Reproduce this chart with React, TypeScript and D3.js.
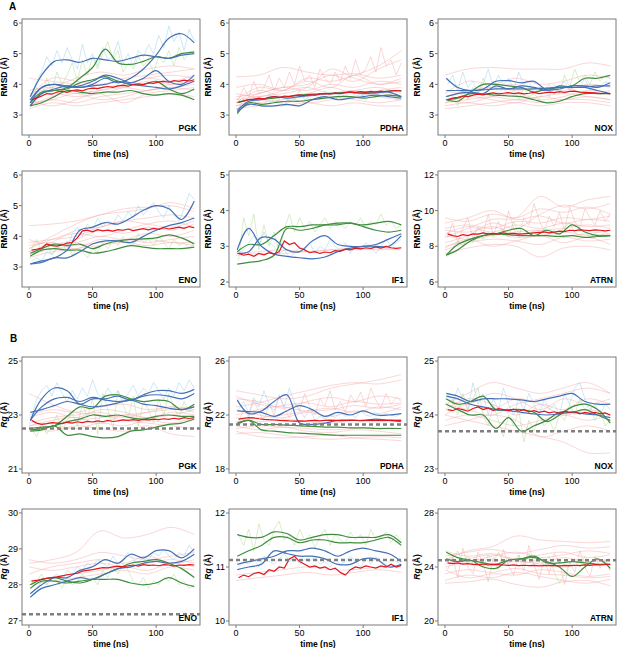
import * as d3 from 'd3';

// time grids (ns)
const T_SMOOTH = [1, 10, 20, 30, 40, 50, 60, 70, 80, 90, 100, 110, 120, 130];
const T_FAINT = [0, 18, 37, 56, 75, 93, 112, 130];
const T_NOISY = [2, 6, 10, 14, 18, 22, 26, 30, 34, 38, 42, 46, 50, 54, 58, 62, 66, 70, 74, 78, 82, 86, 90, 94, 98, 102, 106, 110, 114, 118, 122, 126, 130];
const X_TICKS = [0, 50, 100];

// ---------- A: RMSD ----------
const pgkRmsdRed = [3.5,3.55,3.62,3.7,3.68,3.75,3.78,3.74,3.8,3.82,3.79,3.85,3.88,3.86,3.9,3.93,3.9,3.95,3.97,3.94,4.0,4.02,3.99,4.05,4.03,4.08,4.1,4.07,4.12,4.1,4.14,4.11,4.15];
const pgkRmsdBlue = [
  [3.6,4.3,4.75,4.8,4.72,4.85,4.8,4.75,4.85,4.95,4.9,4.85,4.95,5.0],
  [3.5,3.9,4.0,3.95,3.9,4.0,4.2,4.05,4.2,4.5,4.95,5.5,5.65,5.35],
  [3.4,3.9,4.0,3.9,3.95,4.1,4.3,4.2,4.05,4.2,4.45,4.1,4.0,4.3],
  [3.3,3.7,3.85,3.95,3.9,3.95,4.0,4.1,4.0,3.95,3.9,3.85,3.95,4.1],
];
const pgkRmsdGreen = [
  [3.4,3.75,3.8,3.9,4.2,4.55,5.15,4.7,4.65,4.75,4.9,4.85,5.0,5.05],
  [3.3,3.7,3.8,3.85,4.05,4.15,4.25,4.1,4.0,4.0,4.1,3.85,3.7,3.85],
  [3.3,3.4,3.6,3.8,3.75,3.7,3.75,3.75,3.8,3.7,3.65,3.7,3.65,3.5],
];
const pgkRmsdFaint = [
  [3.3,3.5,3.4,3.6,3.7,3.8,3.9,4.0],[3.6,4.2,4.1,4.0,4.2,4.3,4.4,4.5],[3.2,3.4,3.3,3.4,3.5,3.6,3.7,3.6],
  [4.2,4.1,4.0,3.9,4.0,4.2,4.3,4.2],[3.5,3.7,3.6,3.7,3.9,4.1,4.0,4.1],[3.4,3.5,3.7,3.5,3.6,3.8,3.9,3.8],
  [3.7,3.9,4.2,4.4,4.3,4.5,4.6,4.5],[3.3,3.6,3.8,3.7,3.4,3.7,3.8,3.9],[3.5,3.3,3.5,3.8,4.0,4.2,4.1,4.3],
  [3.8,3.9,3.7,3.8,3.9,3.8,4.0,4.1],
];
const pgkRmsdLightBlue = [3.6,4.1,4.4,4.9,4.6,5.1,4.7,5.2,4.8,4.5,5.3,4.7,5.0,4.6,5.2,4.8,4.9,5.4,4.7,5.0,4.6,5.1,4.9,5.3,5.0,5.6,5.2,5.9,5.4,5.7,5.1,5.8,5.4];
const pgkRmsdLightGreen = [3.4,3.9,3.6,4.2,3.8,4.4,4.0,4.3,4.7,4.1,4.8,4.3,4.9,4.5,5.0,5.4,4.8,5.1,4.4,4.7,4.5,4.9,4.6,4.8,4.4,4.9,4.7,5.1,4.6,5.2,4.8,5.0,5.1];

const pdhaRmsdRed = [3.42,3.45,3.5,3.52,3.55,3.53,3.58,3.6,3.57,3.62,3.6,3.64,3.66,3.63,3.67,3.65,3.69,3.7,3.68,3.72,3.7,3.73,3.75,3.72,3.76,3.74,3.77,3.75,3.78,3.76,3.79,3.8,3.78];
const pdhaRmsdBlue = [
  [3.1,3.35,3.3,3.3,3.35,3.3,3.5,3.6,3.5,3.55,3.6,3.65,3.6,3.55],
  [3.15,3.45,3.5,3.6,3.55,3.6,3.65,3.7,3.7,3.75,3.7,3.72,3.75,3.6],
];
const pdhaRmsdGreen = [
  [3.05,3.4,3.35,3.4,3.45,3.45,3.5,3.55,3.6,3.6,3.55,3.6,3.65,3.6],
  [3.4,3.5,3.52,3.55,3.6,3.65,3.68,3.7,3.72,3.75,3.75,3.75,3.78,3.8],
];
const pdhaRmsdFaint = [
  [4.25,4.3,4.55,4.4,4.3,4.35,4.2,4.3],[3.5,3.9,3.8,4.2,4.1,4.3,4.6,5.1],[3.4,3.7,3.9,4.0,4.3,4.1,4.5,4.8],
  [3.3,3.4,3.5,3.6,3.7,3.8,3.6,3.5],[3.2,3.3,3.3,3.4,3.3,3.4,3.3,3.3],[3.6,3.7,3.9,3.8,4.0,3.9,4.1,4.0],
  [3.4,3.8,3.6,3.7,3.9,3.7,3.8,3.9],[3.7,3.6,3.8,4.1,3.9,4.3,4.0,4.2],[3.3,3.5,3.4,3.5,3.6,3.5,3.4,3.5],
  [3.9,4.0,3.8,3.9,3.7,3.8,3.9,3.7],[3.2,3.5,3.6,3.4,3.5,3.6,3.7,3.6],[3.5,3.6,3.7,3.9,4.5,4.2,4.0,4.1],
];
const pdhaRmsdLightPink = [3.5,3.9,3.6,4.1,3.7,3.9,4.3,3.8,4.2,3.9,4.4,4.0,4.6,4.1,4.3,3.9,4.5,4.2,4.0,4.4,4.1,4.6,4.2,4.8,4.3,4.5,4.9,4.4,5.2,4.6,4.8,4.3,4.7];
const pdhaRmsdLightBlue = [3.2,3.5,3.3,3.6,3.4,3.3,3.7,3.4,3.5,3.3,3.6,3.5,3.8,3.5,3.6,3.7,3.5,3.8,3.6,3.5,3.7,3.6,3.8,3.6,3.7,3.5,3.8,3.7,3.6,3.8,3.7,3.5,3.6];

const noxRmsdRed = [3.5,3.55,3.58,3.62,3.6,3.65,3.68,3.66,3.7,3.72,3.69,3.71,3.73,3.7,3.72,3.69,3.71,3.74,3.7,3.72,3.75,3.73,3.76,3.74,3.77,3.78,3.75,3.74,3.73,3.72,3.7,3.71,3.69];
const noxRmsdBlue = [
  [4.2,3.9,3.8,3.85,4.1,4.12,4.05,4.1,3.82,3.85,3.95,3.95,3.9,4.05],
  [3.8,3.8,3.8,3.82,3.85,3.85,3.85,3.85,3.88,3.9,3.9,3.92,3.95,3.95],
  [3.6,3.7,3.75,3.7,3.95,3.85,3.95,3.9,3.8,3.95,3.9,3.9,3.8,3.7],
];
const noxRmsdGreen = [
  [3.5,3.45,3.75,4.0,4.0,3.95,3.9,3.75,3.85,3.9,3.95,4.2,4.2,4.3],
  [3.5,3.55,3.7,3.68,3.65,3.62,3.6,3.5,3.4,3.45,3.6,3.7,3.7,3.7],
];
const noxRmsdFaint = [
  [4.3,4.5,4.55,4.5,4.5,4.5,4.7,4.6],[3.7,4.1,4.0,4.2,4.0,4.1,4.3,4.2],[3.4,3.5,3.6,3.5,3.6,3.7,3.6,3.5],
  [3.3,3.4,3.3,3.4,3.3,3.4,3.4,3.3],[3.6,3.8,3.9,3.8,3.9,3.8,4.0,3.9],[3.5,3.4,3.6,3.7,3.5,3.6,3.8,3.7],
  [3.2,3.3,3.4,3.5,3.4,3.5,3.5,3.4],[3.8,3.7,3.9,4.0,3.8,3.9,3.7,3.8],[3.4,3.6,3.5,3.4,3.6,3.5,3.6,3.5],
];
const noxRmsdLightBlue = [4.0,4.3,3.8,4.4,3.9,4.1,3.7,4.0,4.5,3.9,4.3,4.0,4.2,3.8,4.4,4.0,4.1,3.7,3.9,3.8,4.0,3.7,3.9,4.1,3.8,4.0,3.9,4.2,3.8,4.0,3.9,4.1,4.0];
const noxRmsdLightGreen = [3.4,3.6,3.3,3.8,3.5,3.9,3.7,4.2,3.8,4.1,3.7,3.9,3.6,3.8,3.5,3.9,3.6,3.7,3.5,3.8,3.6,4.0,3.7,4.3,3.9,4.5,4.1,4.3,4.0,4.4,4.1,4.3,4.2];

const enoRmsdRed = [3.55,3.58,3.62,3.75,3.7,3.68,3.72,3.78,3.8,3.95,4.18,4.2,4.15,4.22,4.18,4.2,4.17,4.22,4.2,4.24,4.19,4.22,4.25,4.21,4.26,4.23,4.28,4.24,4.27,4.3,4.26,4.32,4.28];
const enoRmsdBlue = [
  [3.1,3.2,3.3,3.55,4.2,4.3,4.45,4.4,4.6,4.85,5.0,4.9,4.55,5.15],
  [3.1,3.15,3.3,3.3,3.5,3.75,3.85,3.85,3.8,4.0,4.2,4.35,4.45,4.6],
];
const enoRmsdGreen = [
  [3.45,3.6,3.75,3.7,3.75,3.6,3.75,3.85,3.9,3.92,3.95,4.05,3.95,3.75],
  [3.35,3.55,3.6,3.55,3.55,3.45,3.5,3.6,3.7,3.65,3.6,3.6,3.6,3.65],
];
const enoRmsdFaint = [
  [4.35,4.4,4.5,4.7,4.9,4.95,5.0,4.8],[3.6,4.0,4.4,4.7,4.8,4.9,5.1,4.9],[3.5,3.8,4.2,4.3,4.5,4.6,4.7,4.6],
  [3.8,3.9,4.0,4.3,4.5,4.4,4.3,4.5],[3.4,3.6,3.7,3.8,3.9,3.8,3.9,4.0],[3.9,3.7,3.8,4.0,3.9,4.1,4.0,4.2],
  [3.3,3.5,3.6,3.7,3.8,3.7,3.8,3.7],[3.6,3.9,4.1,4.0,4.2,4.4,4.5,4.3],[3.7,3.8,3.6,3.9,3.8,3.9,3.8,3.8],
  [3.5,3.7,3.9,4.2,4.1,4.3,4.2,4.4],
];
const enoRmsdLightBlue = [3.2,3.3,3.2,3.5,3.4,3.6,3.8,3.5,4.1,4.3,4.0,4.4,4.2,4.6,4.3,4.5,4.4,4.7,4.5,4.8,4.6,5.0,4.7,4.9,5.1,4.8,4.6,5.0,4.7,4.5,4.9,5.4,5.2];
const enoRmsdLightGreen = [3.6,3.9,3.5,3.8,3.4,3.7,3.5,3.8,3.4,3.6,3.5,3.3,3.6,3.5,3.8,3.6,3.9,3.7,4.0,3.8,3.7,4.1,3.8,3.9,3.7,4.0,3.8,3.6,3.9,3.7,3.8,3.6,3.8];

const if1RmsdRed = [2.8,2.75,2.78,2.72,2.8,2.76,2.82,2.78,2.85,3.15,3.05,3.1,2.95,2.9,2.82,2.85,2.8,2.84,2.82,2.88,2.86,2.92,2.9,2.95,2.93,2.96,2.94,2.98,2.95,3.0,2.96,2.94,2.96];
const if1RmsdBlue = [
  [2.9,3.5,3.0,2.78,2.72,2.68,2.65,2.7,2.85,2.95,3.0,3.0,3.0,3.3],
  [2.8,2.85,3.25,3.2,2.9,2.85,3.15,3.3,3.05,3.0,3.0,3.05,3.2,3.35],
];
const if1RmsdGreen = [
  [2.5,2.55,2.6,2.75,3.5,3.45,3.5,3.6,3.65,3.65,3.6,3.65,3.7,3.6],
  [2.85,3.05,3.05,3.3,3.55,3.55,3.6,3.6,3.6,3.65,3.55,3.45,3.4,3.45],
];
const if1RmsdFaint = [[2.8,2.85,2.9,2.85,2.9,2.95,2.9,2.95],[2.75,2.8,2.8,2.85,2.9,2.9,2.95,2.9]];
const if1RmsdLightGreen = [2.6,3.8,3.3,3.9,2.9,3.6,3.0,3.4,2.8,3.5,3.9,3.4,3.8,3.5,3.7,3.4,3.6,3.8,3.5,3.7,3.6,3.5,3.7,3.6,3.8,3.5,3.7,3.6,3.9,3.6,3.7,3.5,3.6];
const if1RmsdLightBlue = [2.8,2.9,3.1,3.3,3.0,3.4,3.1,3.0,2.8,2.9,2.7,2.8,3.0,2.9,3.1,2.8,3.0,2.9,3.2,3.0,2.9,3.1,2.8,3.0,2.9,3.1,3.0,2.8,3.0,3.2,3.0,3.1,3.2];

const atrnRmsdRed = [8.7,8.6,8.55,8.65,8.6,8.7,8.68,8.75,8.7,8.72,8.68,8.75,8.7,8.72,8.68,8.7,8.72,8.75,8.78,8.8,8.75,8.8,8.85,8.82,8.9,8.88,8.92,8.9,8.88,8.92,8.9,8.87,8.9];
const atrnRmsdGreen = [
  [7.5,8.1,8.4,8.6,8.7,8.9,9.0,8.6,8.9,8.7,9.2,8.8,8.6,8.6],
  [7.5,7.8,8.3,8.6,8.7,8.65,8.6,8.6,8.6,8.55,8.6,8.5,8.55,8.6],
];
const atrnRmsdFaint = [
  [8.5,9.0,9.5,9.6,10.8,10.2,10.6,10.8],[8.2,8.6,9.3,9.0,9.8,10.3,10.1,10.4],[9.0,9.2,9.0,9.4,9.3,9.6,9.5,9.7],
  [7.8,8.2,8.4,8.3,8.1,8.5,8.3,8.4],[8.9,8.8,9.1,8.7,8.9,9.0,9.2,9.0],[7.6,7.9,8.1,8.0,7.4,7.9,8.0,7.8],
  [9.3,9.6,10.0,9.5,9.7,9.3,9.5,9.4],[8.0,8.3,8.6,8.8,8.9,8.6,8.7,8.9],[8.7,9.1,8.8,9.2,9.0,9.3,9.1,9.2],
  [7.9,8.4,8.0,8.3,8.6,8.2,8.5,8.1],[8.6,8.4,8.7,8.5,8.6,8.8,8.6,8.7],[9.6,9.4,9.8,9.6,10.1,9.9,10.2,9.8],
];
const atrnRmsdLightPink = [8.5,9.3,8.2,9.0,9.6,8.4,9.1,8.7,9.8,8.6,9.4,8.8,10.0,9.0,8.5,9.6,9.2,10.4,9.5,8.8,9.7,9.1,9.9,8.9,10.2,9.4,9.0,10.1,9.6,9.2,10.0,9.4,9.8];
const atrnRmsdLightGreen = [7.4,7.9,8.3,8.0,8.5,8.2,8.7,8.4,8.8,8.5,8.7,8.9,8.5,9.4,8.7,9.0,8.6,8.8,8.5,9.0,8.7,8.9,8.6,9.1,9.3,8.8,8.6,8.9,8.5,8.7,8.6,8.8,8.6];

// ---------- B: Rg ----------
const pgkRgRed = [22.8,22.7,22.65,22.68,22.72,22.7,22.68,22.73,22.7,22.75,22.72,22.76,22.74,22.78,22.75,22.8,22.76,22.78,22.82,22.8,22.83,22.8,22.84,22.82,22.85,22.83,22.86,22.84,22.88,22.85,22.9,22.87,22.9];
const pgkRgBlue = [
  [22.8,23.6,24.0,23.9,23.4,23.6,23.6,23.7,23.55,23.75,23.9,23.9,23.8,23.95],
  [22.8,23.3,23.6,23.65,23.5,23.65,23.55,23.5,23.55,23.7,23.75,23.7,23.6,23.8],
  [23.1,23.2,23.35,23.5,23.4,23.3,23.35,23.45,23.55,23.4,23.35,23.25,23.2,23.3],
];
const pgkRgGreen = [
  [22.5,22.55,22.6,22.95,23.3,23.25,23.7,23.75,23.6,23.5,23.55,23.5,23.2,23.4],
  [22.45,22.5,22.6,22.75,22.85,23.0,22.95,23.0,22.9,22.85,22.95,23.0,22.95,22.95],
  [22.4,22.45,22.6,22.25,22.3,22.2,22.15,22.2,22.4,22.45,22.55,22.65,22.7,22.85],
];
const pgkRgFaint = [
  [23.8,23.4,23.1,23.0,22.8,22.7,22.6,22.5],[22.6,22.8,22.9,22.7,23.0,22.9,23.1,23.0],[22.4,22.6,22.5,22.7,22.6,22.8,22.7,22.9],
  [23.0,23.2,23.1,23.3,23.4,23.2,23.3,23.1],[22.7,22.9,23.0,23.1,22.9,23.1,23.2,23.3],[22.5,22.4,22.6,22.5,22.4,22.6,22.3,22.2],
  [22.9,23.1,22.9,23.2,23.1,22.9,23.0,23.2],[22.6,22.7,22.8,22.9,23.0,23.1,23.3,23.2],
];
const pgkRgLightBlue = [22.9,23.6,23.9,24.1,23.7,24.2,23.8,23.5,23.9,23.6,24.0,23.7,24.3,23.8,23.6,24.0,23.7,23.9,23.5,23.8,24.1,23.7,24.0,23.8,24.2,23.9,23.6,24.0,23.7,24.2,23.9,24.3,24.0];
const pgkRgLightGreen = [22.5,22.2,22.7,22.3,22.6,23.0,22.4,22.8,23.1,22.6,23.4,22.9,23.6,22.3,23.8,23.2,22.5,23.9,23.4,22.9,23.7,22.6,23.5,23.2,22.7,23.6,23.0,23.8,23.3,22.9,23.5,23.1,23.4];

const pdhaRgRed = [21.7,21.75,21.8,21.78,21.72,21.68,21.65,21.63,21.6,21.58,21.56,21.55,21.57,21.55,21.58,21.6,21.57,21.6,21.62,21.6,21.58,21.6,21.62,21.6,21.58,21.6,21.62,21.6,21.61,21.6,21.62,21.6,21.6];
const pdhaRgBlue = [
  [23.1,22.1,22.3,23.0,23.5,21.4,21.3,21.4,21.6,21.6,21.6,21.7,21.6,21.5],
  [22.3,22.25,22.2,21.9,22.3,22.7,22.4,21.9,22.2,22.0,22.3,22.0,22.0,22.1],
];
const pdhaRgGreen = [
  [21.3,21.6,20.9,20.8,20.7,20.65,20.6,20.55,20.5,20.5,20.5,20.5,20.5,20.5],
  [21.4,21.6,21.3,21.3,21.25,21.2,21.15,21.1,21.1,21.05,21.05,21.0,21.0,21.0],
];
const pdhaRgFaint = [
  [23.8,23.5,23.2,23.4,24.0,24.3,24.6,25.0],[22.6,22.9,23.4,23.8,24.2,24.4,24.3,24.6],[23.2,23.0,22.5,23.0,23.3,23.0,23.4,23.2],
  [22.0,22.4,22.7,22.9,22.6,23.0,22.8,22.9],[21.0,21.2,21.1,21.0,20.9,21.0,21.1,21.0],[20.6,20.7,20.5,20.3,20.2,20.3,20.4,20.3],
  [21.8,21.5,21.7,21.5,21.4,21.6,21.5,21.7],[22.4,22.0,21.8,22.2,21.9,22.3,22.1,22.6],[20.8,20.4,20.3,20.4,20.5,20.3,20.2,20.1],
  [21.5,21.8,22.0,22.3,22.5,22.2,22.6,22.4],[23.4,22.8,22.6,22.3,22.4,22.7,22.5,22.8],[21.2,20.9,21.1,20.8,20.7,20.9,20.8,20.6],
];
const pdhaRgLightPink = [21.5,22.4,21.9,23.1,22.2,21.6,22.8,22.0,23.4,22.5,21.8,22.9,22.3,23.6,22.6,22.0,23.2,22.7,23.8,22.4,23.0,22.2,23.5,22.9,23.7,22.6,24.0,23.1,22.5,23.6,22.8,23.3,23.0];
const pdhaRgLightBlue = [22.4,23.0,22.1,23.3,22.6,23.8,22.8,22.3,23.5,22.6,24.0,22.9,22.4,21.8,22.5,21.6,21.9,21.7,22.0,21.8,22.2,21.9,22.1,21.8,22.3,22.0,21.9,22.2,21.9,22.1,22.0,21.9,22.1];

const noxRgRed = [24.1,24.08,24.12,24.1,24.07,24.12,24.15,24.1,24.13,24.08,24.12,24.1,24.08,24.11,24.07,24.1,24.06,24.08,24.05,24.07,24.04,24.06,24.03,24.07,24.05,24.06,24.02,24.05,24.03,24.05,24.02,24.04,24.0];
const noxRgBlue = [
  [24.4,24.35,24.25,24.3,24.3,24.3,24.28,24.25,24.3,24.35,24.4,24.25,24.2,24.2],
  [24.35,24.3,24.2,24.15,24.1,24.08,24.05,24.02,24.0,24.02,24.05,24.02,24.0,23.95],
];
const noxRgGreen = [
  [24.3,24.2,24.25,24.35,24.1,24.1,24.1,24.05,23.88,24.0,24.15,24.2,24.1,23.85],
  [24.2,24.1,24.0,24.0,23.75,23.95,23.7,23.8,23.9,24.05,24.05,24.1,24.0,23.9],
];
const noxRgFaint = [
  [24.2,24.4,24.6,24.5,24.4,24.5,24.6,24.4],[24.0,23.9,23.8,23.7,23.6,23.5,23.3,23.3],[24.3,24.2,24.4,24.3,24.1,24.3,24.2,24.3],
  [23.9,24.0,23.9,23.8,23.9,24.0,23.9,24.0],[24.1,24.3,24.2,24.0,24.2,24.1,24.3,24.2],[23.8,23.9,24.0,23.9,23.6,23.7,23.8,23.7],
  [24.2,24.1,24.0,24.2,24.3,24.4,24.5,24.4],[24.0,24.2,24.1,24.3,24.2,24.0,24.1,24.0],
];
const noxRgLightBlue = [24.4,24.2,24.5,24.3,24.1,24.6,24.2,24.4,24.0,24.3,24.1,24.5,24.2,24.0,24.3,24.1,24.4,24.2,24.0,24.3,24.1,24.2,24.0,24.4,24.2,24.5,24.6,24.3,24.1,24.2,24.0,24.2,24.1];
const noxRgLightGreen = [24.2,24.3,24.0,24.4,24.1,24.3,24.5,24.0,23.8,24.2,23.9,23.6,24.0,23.8,24.1,23.5,23.9,23.7,24.0,23.8,23.9,23.7,24.0,23.9,24.2,24.0,24.3,24.1,24.2,23.9,24.1,23.8,23.9];

const enoRgRed = [28.1,28.12,28.15,28.18,28.2,28.22,28.25,28.28,28.3,28.32,28.38,28.4,28.42,28.45,28.48,28.47,28.5,28.52,28.5,28.53,28.55,28.52,28.56,28.54,28.55,28.53,28.56,28.55,28.52,28.55,28.54,28.56,28.55];
const enoRgBlue = [
  [27.75,28.0,28.2,28.2,28.4,28.5,28.7,28.6,28.85,28.75,28.95,28.95,28.75,29.0],
  [27.65,27.9,28.0,28.1,28.2,28.15,28.3,28.45,28.5,28.6,28.65,28.6,28.65,28.85],
];
const enoRgGreen = [
  [28.0,28.15,28.2,28.1,28.05,28.15,28.3,28.45,28.6,28.65,28.7,28.6,28.45,28.2],
  [27.9,28.1,28.1,28.05,28.1,28.15,28.15,28.15,28.05,28.0,28.05,28.2,28.05,27.95],
];
const enoRgFaint = [
  [28.6,28.7,28.9,29.5,29.3,29.4,29.6,29.4],[28.7,28.6,28.7,28.9,28.8,28.7,28.8,28.9],[28.3,28.5,28.6,28.7,28.6,28.8,28.6,28.7],
  [28.1,28.2,28.3,28.4,28.5,28.4,28.6,28.5],[28.5,28.4,28.5,28.6,28.5,28.6,28.7,28.6],[28.0,28.1,28.2,28.3,28.4,28.3,28.5,28.4],
];
const enoRgLightBlue = [27.8,27.9,28.1,28.0,28.2,28.3,28.1,28.4,28.3,28.5,28.4,28.6,28.5,28.7,28.6,28.5,28.8,28.6,28.7,28.9,28.7,28.6,28.8,28.7,28.9,28.8,29.0,28.8,28.7,28.9,28.8,29.1,28.9];
const enoRgLightGreen = [28.0,28.1,28.3,28.0,28.2,28.1,27.9,28.2,28.0,28.1,28.3,28.1,28.2,28.0,28.4,28.2,28.5,28.3,28.6,28.4,28.1,28.0,28.2,27.9,28.1,28.0,28.2,28.1,28.3,28.0,28.1,27.9,28.0];

const if1RgRed = [10.8,10.85,10.82,10.88,10.9,10.86,10.95,10.92,11.0,10.98,11.15,11.2,11.1,11.05,11.0,11.02,10.98,11.0,10.95,10.98,10.9,10.85,10.95,11.0,10.98,11.02,11.0,10.98,11.02,11.0,11.05,11.0,11.03];
const if1RgBlue = [
  [11.05,11.1,11.15,11.2,11.3,11.3,11.35,11.3,11.2,11.3,11.35,11.3,11.25,11.1],
  [10.95,11.0,11.05,11.3,11.25,11.2,11.2,11.15,11.05,11.05,11.15,11.15,11.0,11.05],
];
const if1RgGreen = [
  [11.6,11.55,11.55,11.65,11.62,11.5,11.55,11.6,11.6,11.55,11.55,11.55,11.6,11.45],
  [11.2,11.3,11.4,11.55,11.55,11.45,11.5,11.5,11.45,11.45,11.45,11.5,11.55,11.4],
];
const if1RgFaint = [[10.75,10.8,10.85,10.9,10.85,10.9,10.95,10.9],[10.85,10.9,10.95,11.0,10.95,10.95,11.0,11.0]];
const if1RgLightGreen = [11.6,11.4,11.7,11.3,11.8,11.5,11.4,11.7,11.85,11.5,11.6,11.4,11.7,11.5,11.6,11.35,11.55,11.7,11.4,11.6,11.5,11.45,11.65,11.5,11.6,11.4,11.7,11.5,11.55,11.65,11.45,11.6,11.5];
const if1RgLightBlue = [11.0,11.1,11.05,11.15,11.0,11.2,11.1,11.05,11.15,11.25,11.1,11.2,11.05,11.15,11.1,11.2,11.05,11.1,11.0,11.15,11.05,11.1,11.2,11.1,11.0,11.15,11.05,11.2,11.1,11.05,11.15,11.1,11.05];

const atrnRgRed = [24.3,24.25,24.3,24.22,24.25,24.2,24.18,24.22,24.15,24.2,24.17,24.15,24.12,24.15,24.1,24.13,24.1,24.12,24.08,24.1,24.12,24.1,24.08,24.12,24.1,24.13,24.1,24.15,24.12,24.18,24.15,24.2,24.2];
const atrnRgGreen = [
  [25.1,24.7,24.5,24.3,24.2,24.5,24.6,24.7,24.4,24.0,23.3,24.0,24.6,23.9],
  [24.6,24.4,24.5,24.0,23.9,24.5,24.6,24.8,24.3,24.3,24.4,24.3,24.2,24.2],
];
const atrnRgFaint = [
  [24.5,25.2,25.5,26.3,26.0,25.9,25.8,25.9],[24.8,25.1,25.3,25.0,25.3,25.6,25.4,25.5],[23.5,23.8,23.6,23.9,23.5,23.4,23.2,23.3],
  [22.8,22.9,23.1,22.7,22.5,22.9,23.0,22.6],[24.0,24.3,24.1,24.4,24.2,24.0,24.2,24.1],[23.8,23.2,23.5,23.4,23.8,23.6,23.3,23.5],
  [25.2,24.8,25.0,24.6,24.9,25.1,24.7,24.9],[24.2,24.6,24.9,24.5,24.3,24.7,24.4,24.6],[23.0,23.4,23.2,23.6,23.3,23.0,22.8,23.1],
  [24.6,24.4,24.8,25.1,24.7,24.9,25.2,25.0],
];
const atrnRgLightPink = [23.8,24.8,23.2,25.4,24.0,23.5,25.1,24.3,22.9,24.7,23.8,25.3,24.1,23.4,24.9,23.7,25.6,24.2,23.1,24.6,23.5,25.0,24.3,22.7,24.4,23.6,25.2,24.0,23.3,24.8,23.9,24.5,23.7];
const atrnRgLightGreen = [25.0,24.5,25.2,24.3,24.8,24.2,24.6,24.0,24.9,24.4,25.1,24.3,24.7,24.5,24.9,24.2,25.0,24.4,24.6,24.1,24.8,23.6,22.8,23.5,24.2,24.6,24.0,24.8,24.3,24.7,24.1,24.5,23.8];

// ---------- styles ----------
const C = {
  red: '#e2151c',
  blue: '#4470b6',
  green: '#3e8d3e',
  faint: '#f39c9c',
  lightBlue: '#93cdee',
  lightGreen: '#aed88d',
  lightPink: '#f5a8a8',
  frame: '#7a7a7a',
  dash: '#7f7f7f',
};
const FONT = 'Arial, "Liberation Sans", Helvetica, sans-serif';

const COL_LEFT = [22, 229, 438];
const PANEL_W = 178;
const ROW_TOP = [19, 171, 357, 509];
const PANEL_H = 116;
const X_DOMAIN: [number, number] = [-5.5, 134.5];

type Noisy = { color: string; values: number[] };
type PanelDef = {
  name: string;
  row: number;
  col: number;
  kind: 'rmsd' | 'rg';
  yDomain: [number, number];
  yTicks: number[];
  faint: number[][];
  noisy: Noisy[];
  blue: number[][];
  green: number[][];
  red: number[];
  dashed?: number;
};

const PANELS: PanelDef[] = [
  { name: 'PGK', row: 0, col: 0, kind: 'rmsd', yDomain: [2.35, 6.13], yTicks: [3, 4, 5, 6], faint: pgkRmsdFaint,
    noisy: [{ color: C.lightBlue, values: pgkRmsdLightBlue }, { color: C.lightGreen, values: pgkRmsdLightGreen }],
    blue: pgkRmsdBlue, green: pgkRmsdGreen, red: pgkRmsdRed },
  { name: 'PDHA', row: 0, col: 1, kind: 'rmsd', yDomain: [2.35, 6.13], yTicks: [3, 4, 5, 6], faint: pdhaRmsdFaint,
    noisy: [{ color: C.lightPink, values: pdhaRmsdLightPink }, { color: C.lightBlue, values: pdhaRmsdLightBlue }],
    blue: pdhaRmsdBlue, green: pdhaRmsdGreen, red: pdhaRmsdRed },
  { name: 'NOX', row: 0, col: 2, kind: 'rmsd', yDomain: [2.35, 6.13], yTicks: [3, 4, 5, 6], faint: noxRmsdFaint,
    noisy: [{ color: C.lightBlue, values: noxRmsdLightBlue }, { color: C.lightGreen, values: noxRmsdLightGreen }],
    blue: noxRmsdBlue, green: noxRmsdGreen, red: noxRmsdRed },
  { name: 'ENO', row: 1, col: 0, kind: 'rmsd', yDomain: [2.35, 6.13], yTicks: [3, 4, 5, 6], faint: enoRmsdFaint,
    noisy: [{ color: C.lightBlue, values: enoRmsdLightBlue }, { color: C.lightGreen, values: enoRmsdLightGreen }],
    blue: enoRmsdBlue, green: enoRmsdGreen, red: enoRmsdRed },
  { name: 'IF1', row: 1, col: 1, kind: 'rmsd', yDomain: [1.86, 5.11], yTicks: [2, 3, 4, 5], faint: if1RmsdFaint,
    noisy: [{ color: C.lightGreen, values: if1RmsdLightGreen }, { color: C.lightBlue, values: if1RmsdLightBlue }],
    blue: if1RmsdBlue, green: if1RmsdGreen, red: if1RmsdRed },
  { name: 'ATRN', row: 1, col: 2, kind: 'rmsd', yDomain: [5.72, 12.22], yTicks: [6, 8, 10, 12], faint: atrnRmsdFaint,
    noisy: [{ color: C.lightPink, values: atrnRmsdLightPink }, { color: C.lightGreen, values: atrnRmsdLightGreen }],
    blue: [], green: atrnRmsdGreen, red: atrnRmsdRed },
  { name: 'PGK', row: 2, col: 0, kind: 'rg', yDomain: [20.85, 25.15], yTicks: [21, 23, 25], faint: pgkRgFaint,
    noisy: [{ color: C.lightBlue, values: pgkRgLightBlue }, { color: C.lightGreen, values: pgkRgLightGreen }],
    blue: pgkRgBlue, green: pgkRgGreen, red: pgkRgRed, dashed: 22.5 },
  { name: 'PDHA', row: 2, col: 1, kind: 'rg', yDomain: [17.7, 26.3], yTicks: [18, 22, 26], faint: pdhaRgFaint,
    noisy: [{ color: C.lightPink, values: pdhaRgLightPink }, { color: C.lightBlue, values: pdhaRgLightBlue }],
    blue: pdhaRgBlue, green: pdhaRgGreen, red: pdhaRgRed, dashed: 21.3 },
  { name: 'NOX', row: 2, col: 2, kind: 'rg', yDomain: [22.925, 25.075], yTicks: [23, 24, 25], faint: noxRgFaint,
    noisy: [{ color: C.lightBlue, values: noxRgLightBlue }, { color: C.lightGreen, values: noxRgLightGreen }],
    blue: noxRgBlue, green: noxRgGreen, red: noxRgRed, dashed: 23.7 },
  { name: 'ENO', row: 3, col: 0, kind: 'rg', yDomain: [26.88, 30.11], yTicks: [27, 28, 29, 30], faint: enoRgFaint,
    noisy: [{ color: C.lightBlue, values: enoRgLightBlue }, { color: C.lightGreen, values: enoRgLightGreen }],
    blue: enoRgBlue, green: enoRgGreen, red: enoRgRed, dashed: 27.18 },
  { name: 'IF1', row: 3, col: 1, kind: 'rg', yDomain: [9.925, 12.075], yTicks: [10, 11, 12], faint: if1RgFaint,
    noisy: [{ color: C.lightGreen, values: if1RgLightGreen }, { color: C.lightBlue, values: if1RgLightBlue }],
    blue: if1RgBlue, green: if1RgGreen, red: if1RgRed, dashed: 11.13 },
  { name: 'ATRN', row: 3, col: 2, kind: 'rg', yDomain: [19.7, 28.3], yTicks: [20, 24, 28], faint: atrnRgFaint,
    noisy: [{ color: C.lightPink, values: atrnRgLightPink }, { color: C.lightGreen, values: atrnRgLightGreen }],
    blue: [], green: atrnRgGreen, red: atrnRgRed, dashed: 24.5 },
];

function Panel({ p, idx }: { p: PanelDef; idx: number }) {
  const left = COL_LEFT[p.col];
  const top = ROW_TOP[p.row];
  const right = left + PANEL_W;
  const bottom = top + PANEL_H;
  const x = d3.scaleLinear().domain(X_DOMAIN).range([left, right]);
  const y = d3.scaleLinear().domain(p.yDomain).range([bottom, top]);

  const smooth = (ts: number[]) =>
    d3.line<number>().x((_, i) => x(ts[i])).y((d) => y(d)).curve(d3.curveCatmullRom.alpha(0.5));
  const smoothLine = smooth(T_SMOOTH);
  const faintLine = smooth(T_FAINT);
  const noisyLine = d3.line<number>().x((_, i) => x(T_NOISY[i])).y((d) => y(d));

  const clipId = `clip-${idx}`;
  const titleX = left - (p.col === 0 ? 15 : 18);
  const midY = (top + bottom) / 2;

  return (
    <g>
      <defs>
        <clipPath id={clipId}>
          <rect x={left} y={top} width={PANEL_W} height={PANEL_H} />
        </clipPath>
      </defs>
      <g clipPath={`url(#${clipId})`} fill="none">
        {p.faint.map((s, i) => (
          <path key={`f${i}`} d={faintLine(s) ?? ''} stroke={C.faint} strokeOpacity={0.5} strokeWidth={0.8} />
        ))}
        {p.noisy.map((n, i) => (
          <path key={`n${i}`} d={noisyLine(n.values) ?? ''} stroke={n.color} strokeOpacity={0.65} strokeWidth={0.7} />
        ))}
        {p.green.map((s, i) => (
          <path key={`g${i}`} d={smoothLine(s) ?? ''} stroke={C.green} strokeWidth={1.2} />
        ))}
        {p.blue.map((s, i) => (
          <path key={`b${i}`} d={smoothLine(s) ?? ''} stroke={C.blue} strokeWidth={1.2} />
        ))}
        <path d={noisyLine(p.red) ?? ''} stroke={C.red} strokeWidth={1.2} />
        {p.dashed !== undefined && (
          <line x1={left} x2={right} y1={y(p.dashed)} y2={y(p.dashed)}
            stroke={C.dash} strokeWidth={2.4} strokeDasharray="4,3" />
        )}
      </g>
      <rect x={left} y={top} width={PANEL_W} height={PANEL_H} fill="none" stroke={C.frame} strokeWidth={1} />
      {/* y axis */}
      {p.yTicks.map((t) => (
        <g key={`yt${t}`}>
          <line x1={left - 3} x2={left} y1={y(t)} y2={y(t)} stroke={C.frame} />
          <text x={left - 4} y={y(t)} dy="0.35em" textAnchor="end" fontSize={9}>{t}</text>
        </g>
      ))}
      {/* x axis */}
      {X_TICKS.map((t) => (
        <g key={`xt${t}`}>
          <line x1={x(t)} x2={x(t)} y1={bottom} y2={bottom + 3} stroke={C.frame} />
          <text x={x(t)} y={bottom + 10.5} textAnchor="middle" fontSize={9}>{t}</text>
        </g>
      ))}
      <text x={(left + right) / 2} y={bottom + 21.5} textAnchor="middle" fontSize={8.5} fontWeight="bold">time (ns)</text>
      <text transform={`translate(${titleX},${midY}) rotate(-90)`} textAnchor="middle" fontSize={8.5} fontWeight="bold">
        {p.kind === 'rmsd' ? 'RMSD (Å)' : (<><tspan fontStyle="italic">Rg</tspan> (Å)</>)}
      </text>
      <text x={right - 3} y={bottom - 4} textAnchor="end" fontSize={8.5} fontWeight="bold">{p.name}</text>
    </g>
  );
}

export default function App() {
  return (
    <svg width={617} height={648} viewBox="0 0 617 648"
      style={{ position: 'absolute', left: 0, top: 0, background: '#fff', fontFamily: FONT }}>
      <text x={9} y={10} fontSize={10} fontWeight="bold">A</text>
      <text x={10} y={342} fontSize={10} fontWeight="bold">B</text>
      {PANELS.map((p, i) => <Panel key={i} p={p} idx={i} />)}
    </svg>
  );
}
